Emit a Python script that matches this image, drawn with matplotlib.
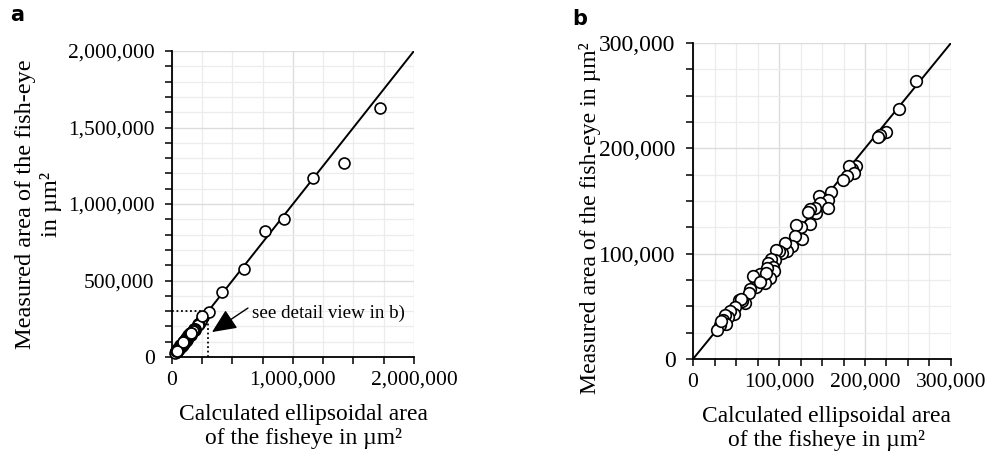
import matplotlib
matplotlib.use("Agg")
import matplotlib.pyplot as plt
from matplotlib.ticker import MultipleLocator, FuncFormatter

plt.rcParams['font.family'] = ['Liberation Serif', 'DejaVu Serif']

# detail points (panel b, also shown in panel a)
calc_small = [259300, 239100, 223900, 217300, 214600, 189400, 185100, 180900, 187100, 179300,
              173900, 159900, 146300, 157200, 147500, 156400, 143600, 141700, 136600, 133500,
              136600, 125000, 119200, 127300, 118400, 114900, 109400, 106700, 104000, 100100,
              97000, 95900, 91200, 87300, 93100, 93900, 86500, 89300, 83400, 79600,
              77600, 85400, 73700, 69900, 73000, 77600, 66800, 65200, 60200, 57400,
              53600, 56300, 48500, 47700, 42700, 41100, 37300, 34900, 38000, 31000,
              28300, 33000]
meas_small = [263900, 237300, 215700, 212900, 210700, 183700, 180600, 183700, 176400, 173300,
              170100, 158400, 154900, 150500, 147900, 143200, 138400, 142900, 142600, 139400,
              128000, 125800, 127000, 113700, 116900, 107400, 103000, 109900, 100400, 102600,
              103600, 94100, 95400, 90900, 87800, 84000, 86200, 76700, 71900, 78200,
              80800, 81400, 73500, 78900, 68100, 73500, 66200, 62400, 52900, 55100,
              56100, 57000, 49100, 42800, 45900, 39600, 42100, 37100, 33300, 32300,
              27600, 36100]

# larger fish-eyes only in panel a
calc_large = [1719000, 1419000, 1165000, 923000, 769000, 595000, 413000, 303000, 245000, 160000, 91000, 39000]
meas_large = [1625000, 1265000, 1167000, 899000, 822000, 578000, 427000, 294000, 266000, 159000, 98000, 39000]

xlabel = "Calculated ellipsoidal area\nof the fisheye in µm²"

fmt = FuncFormatter(lambda v, p: f"{int(v):,}")

fig = plt.figure(figsize=(9.98, 4.57), dpi=100)
ax_a = fig.add_axes([0.1723, 0.2188, 0.2425, 0.6696])
ax_b = fig.add_axes([0.6944, 0.2144, 0.2585, 0.6915])


def style(ax, lim, major, xminor, yminor, xsize, ysize):
    ax.set_xlim(0, lim)
    ax.set_ylim(0, lim)
    ax.xaxis.set_major_locator(MultipleLocator(major))
    ax.yaxis.set_major_locator(MultipleLocator(major))
    ax.xaxis.set_minor_locator(MultipleLocator(xminor))
    ax.yaxis.set_minor_locator(MultipleLocator(yminor))
    ax.xaxis.set_major_formatter(fmt)
    ax.yaxis.set_major_formatter(fmt)
    ax.grid(True, which='minor', color='#ececec', linewidth=0.9)
    ax.grid(True, which='major', color='#dcdcdc', linewidth=1.0)
    ax.set_axisbelow(True)
    for s in ['top', 'right']:
        ax.spines[s].set_visible(False)
    for s in ['left', 'bottom']:
        ax.spines[s].set_linewidth(1.3)
    ax.tick_params(which='both', direction='out', length=5, width=1.1)
    ax.tick_params(axis='x', pad=5, labelsize=xsize)
    ax.tick_params(axis='y', pad=7.5, labelsize=ysize)
    ax.set_xlabel(xlabel, fontsize=16.9, labelpad=10, linespacing=1.2)


# panel a
style(ax_a, 2000000, 1000000, 250000, 100000, 15.5, 15.5)
ax_a.yaxis.set_major_locator(MultipleLocator(500000))
ax_a.plot([0, 2000000], [0, 2000000], color='black', lw=1.4, zorder=2)
ax_a.plot([0, 300000], [300000, 300000], color='black', lw=1.3, ls=(0, (1, 1.5)), zorder=2)
ax_a.plot([300000, 300000], [0, 300000], color='black', lw=1.3, ls=(0, (1, 1.5)), zorder=2)
ax_a.scatter(calc_small + calc_large, meas_small + meas_large, s=62, facecolor='white',
             edgecolor='black', linewidth=1.2, zorder=3, clip_on=False)
ax_a.annotate("", xy=(331000, 163000), xytext=(628000, 320000),
              arrowprops=dict(arrowstyle='-|>,head_length=1.0,head_width=0.45', color='black',
                              lw=1, shrinkA=0, shrinkB=0, mutation_scale=15))
ax_a.text(661000, 288000, "see detail view in b)", fontsize=13.7, va='center', ha='left')
ax_a.set_ylabel("Measured area of the fish-eye\nin µm²", fontsize=17.5, labelpad=4, linespacing=1.25)
ax_a.xaxis.label.set_x(0.545)

# panel b
style(ax_b, 300000, 100000, 25000, 25000, 15.5, 17)
ax_b.plot([0, 300000], [0, 300000], color='black', lw=1.4, zorder=2)
ax_b.scatter(calc_small, meas_small, s=70, facecolor='white', edgecolor='black',
             linewidth=1.2, zorder=3)
ax_b.set_ylabel("Measured area of the fish-eye in µm²", fontsize=17.1, labelpad=-1)
ax_b.yaxis.label.set_y(0.446)
ax_b.xaxis.label.set_x(0.516)

fig.text(0.010, 0.955, "a", fontsize=15, fontweight='bold', family='DejaVu Sans')
fig.text(0.573, 0.945, "b", fontsize=15, fontweight='bold', family='DejaVu Sans')

fig.savefig("out.png", dpi=100)
